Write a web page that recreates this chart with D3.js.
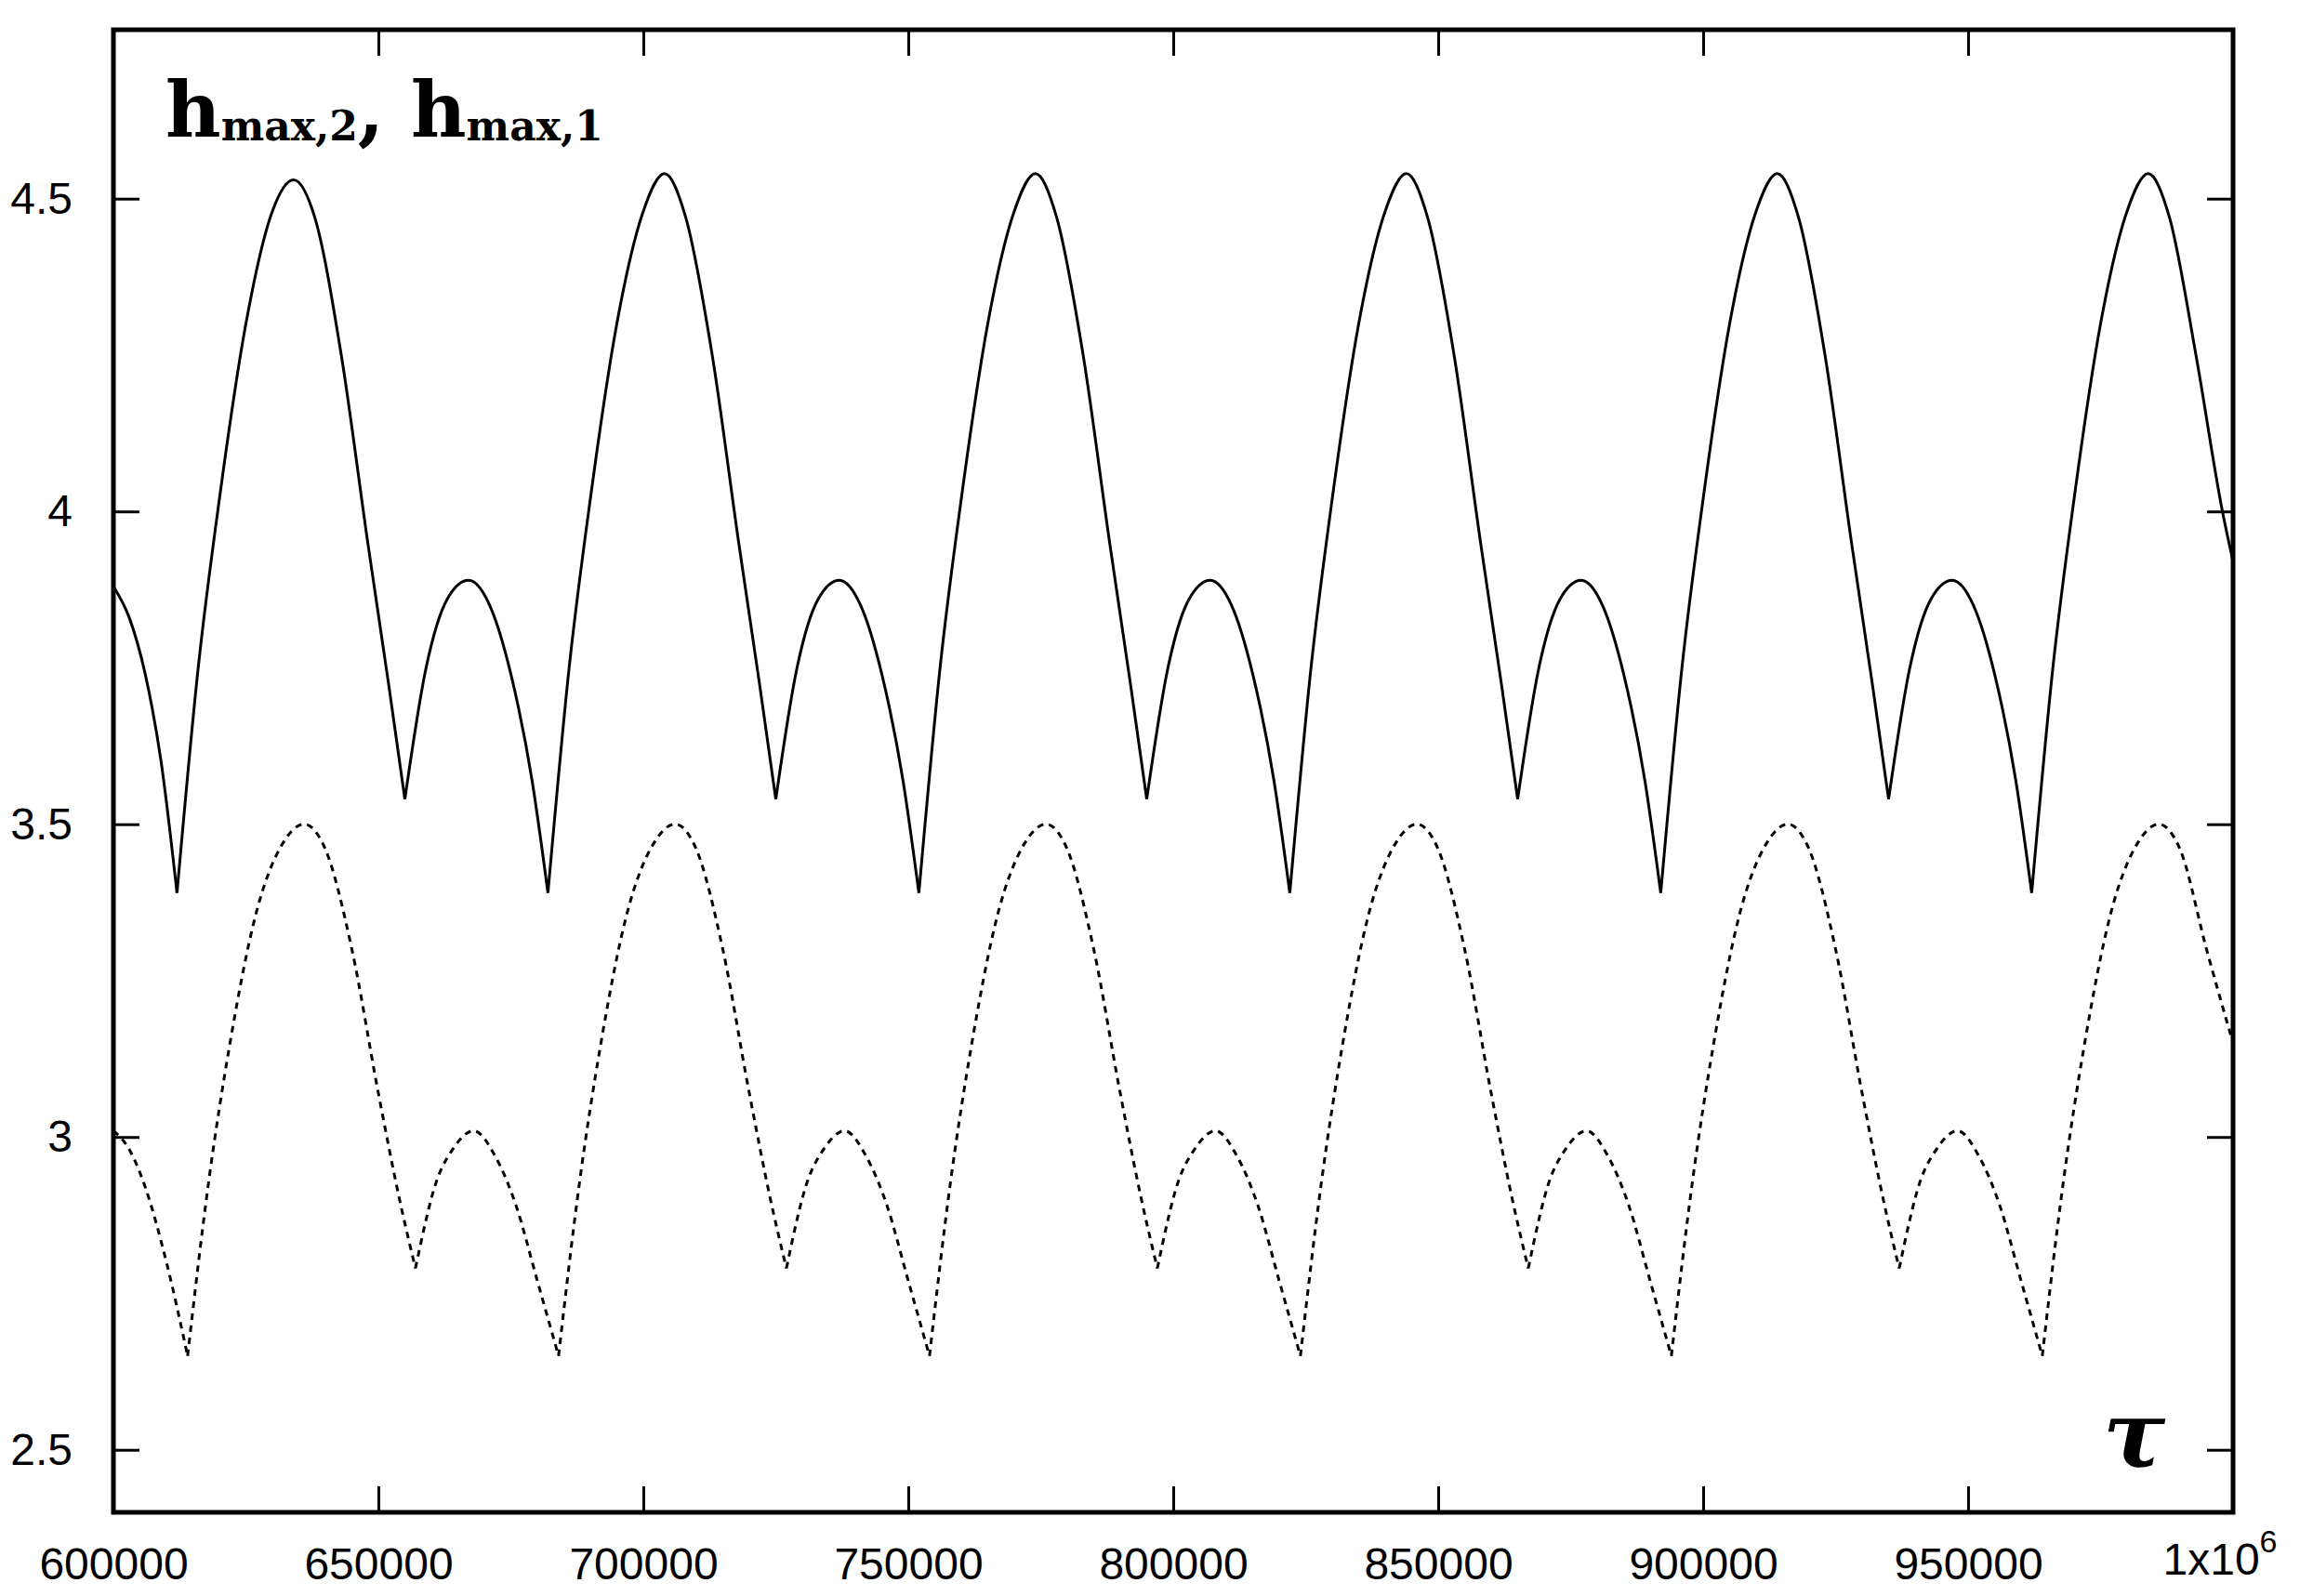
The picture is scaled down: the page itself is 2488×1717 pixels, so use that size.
<!DOCTYPE html>
<html>
<head>
<meta charset="utf-8">
<script src="https://cdn.jsdelivr.net/npm/d3@7"></script>
<style>
body { margin: 0; background: #fff; }
text { font-family: "Liberation Sans", Arial, sans-serif; }
</style>
</head>
<body>
<svg id="chart" width="2488" height="1717"></svg>
<script>
// tau in thousands, h values
var solidTau = [600,603,606,609,612, 616,620,625,630,634,638,643,648,652,655, 659,663,667,671,675,679,682,
	686,690,695,700,704,708,713,718,722,725, 729,733,737,741,745,749,752,
	756,760,765,770,774,778,783,788,792,795, 799,803,807,811,815,819,822,
	826,830,835,840,844,848,853,858,862,865, 869,873,877,881,885,889,892,
	896,900,905,910,914,918,923,928,932,935, 939,943,947,951,955,959,962,
	966,970,975,980,984,988,993,998,1000];
var solidH = [3.88,3.83,3.74,3.60,3.39, 3.75,4.02,4.30,4.48,4.53,4.47,4.25,3.95,3.72,3.54, 3.75,3.86,3.89,3.85,3.74,3.57,3.39,
	3.75,4.02,4.30,4.48,4.54,4.47,4.25,3.95,3.72,3.54, 3.75,3.86,3.89,3.85,3.74,3.57,3.39,
	3.75,4.02,4.30,4.48,4.54,4.47,4.25,3.95,3.72,3.54, 3.75,3.86,3.89,3.85,3.74,3.57,3.39,
	3.75,4.02,4.30,4.48,4.54,4.47,4.25,3.95,3.72,3.54, 3.75,3.86,3.89,3.85,3.74,3.57,3.39,
	3.75,4.02,4.30,4.48,4.54,4.47,4.25,3.95,3.72,3.54, 3.75,3.86,3.89,3.85,3.74,3.57,3.39,
	3.75,4.02,4.30,4.48,4.54,4.47,4.25,4.00,3.92];

var dottedTau = [600,603,606,610,614, 618,622,627,632,636,640,645,650,654,657, 661,664,668,672,676,680,684,
	688,692,697,702,706,710,715,720,724,727, 731,734,738,742,746,750,754,
	758,762,767,772,776,780,785,790,794,797, 801,804,808,812,816,820,824,
	828,832,837,842,846,850,855,860,864,867, 871,874,878,882,886,890,894,
	898,902,907,912,916,920,925,930,934,937, 941,944,948,952,956,960,964,
	968,972,977,982,986,990,995,1000];
var dottedH = [3.01,2.98,2.92,2.80,2.65, 2.93,3.15,3.36,3.47,3.50,3.46,3.30,3.07,2.90,2.79, 2.93,2.98,3.01,2.97,2.89,2.77,2.65,
	2.93,3.15,3.36,3.47,3.50,3.46,3.30,3.07,2.90,2.79, 2.93,2.98,3.01,2.97,2.89,2.77,2.65,
	2.93,3.15,3.36,3.47,3.50,3.46,3.30,3.07,2.90,2.79, 2.93,2.98,3.01,2.97,2.89,2.77,2.65,
	2.93,3.15,3.36,3.47,3.50,3.46,3.30,3.07,2.90,2.79, 2.93,2.98,3.01,2.97,2.89,2.77,2.65,
	2.93,3.15,3.36,3.47,3.50,3.46,3.30,3.07,2.90,2.79, 2.93,2.98,3.01,2.97,2.89,2.77,2.65,
	2.93,3.15,3.36,3.47,3.50,3.46,3.30,3.15];

var xTicks = [600000,650000,700000,750000,800000,850000,900000,950000,1000000];
var yTicks = [2.5,3,3.5,4,4.5];

var plotLeft = 122, plotRight = 2402, plotTop = 32, plotBottom = 1627;
var svg = d3.select("#chart");

var x = d3.scaleLinear().domain([600000, 1000000]).range([plotLeft, plotRight]);
var y = d3.scaleLinear().domain([2.4, 4.77]).range([plotBottom, plotTop]);

var line = d3.line()
	.x(function(d){ return x(d[0] * 1000); })
	.y(function(d){ return y(d[1]); })
	.curve(d3.curveMonotoneX);

// split a series into arches at its local minima so the cusps stay sharp
function arches(pts) {
	var out = [], cur = [pts[0]];
	for (var i = 1; i < pts.length; i++) {
		cur.push(pts[i]);
		var isMin = i < pts.length - 1 && pts[i][1] < pts[i-1][1] && pts[i][1] < pts[i+1][1];
		if (isMin) { out.push(cur); cur = [pts[i]]; }
	}
	out.push(cur);
	return out.map(function(a){ return line(a); }).join("");
}

svg.append("path").attr("d", arches(d3.zip(solidTau, solidH)))
	.attr("fill", "none").attr("stroke", "#000").attr("stroke-width", 3).attr("stroke-linejoin", "miter");

svg.append("path").attr("d", arches(d3.zip(dottedTau, dottedH)))
	.attr("fill", "none").attr("stroke", "#000").attr("stroke-width", 3)
	.attr("stroke-dasharray", "7,6");

// frame
svg.append("rect").attr("x", plotLeft).attr("y", plotTop).attr("width", plotRight - plotLeft).attr("height", plotBottom - plotTop)
	.attr("fill", "none").attr("stroke", "#000").attr("stroke-width", 5);

var tickLen = 28;
var fmtX = function(d){ return d == 1000000 ? "" : d; };

// x ticks inward (bottom and top)
svg.append("g").attr("transform", "translate(0," + plotBottom + ")")
	.call(d3.axisBottom(x).tickValues(xTicks).tickSize(-tickLen).tickPadding(tickLen + 10).tickFormat(fmtX))
	.call(function(g){ g.select(".domain").remove(); g.selectAll("line").attr("stroke-width", 3); g.selectAll("text").attr("font-size", 48).attr("fill", "#000"); });
svg.append("g").attr("transform", "translate(0," + plotTop + ")")
	.call(d3.axisTop(x).tickValues(xTicks).tickSize(-tickLen).tickFormat(""))
	.call(function(g){ g.select(".domain").remove(); g.selectAll("line").attr("stroke-width", 3); });

// 1x10^6 label
var lab = svg.append("text").attr("x", plotRight - 14).attr("y", 1694).attr("text-anchor", "middle").attr("font-size", 48);
lab.append("tspan").text("1x10");
lab.append("tspan").attr("dy", -24).attr("font-size", 34).text("6");

// y ticks inward (left and right)
svg.append("g").attr("transform", "translate(" + plotLeft + ",0)")
	.call(d3.axisLeft(y).tickValues(yTicks).tickSize(-tickLen).tickPadding(tickLen + 16).tickFormat(d3.format("")))
	.call(function(g){ g.select(".domain").remove(); g.selectAll("line").attr("stroke-width", 3); g.selectAll("text").attr("font-size", 48).attr("fill", "#000"); });
svg.append("g").attr("transform", "translate(" + plotRight + ",0)")
	.call(d3.axisRight(y).tickValues(yTicks).tickSize(-tickLen).tickFormat(""))
	.call(function(g){ g.select(".domain").remove(); g.selectAll("line").attr("stroke-width", 3); });

// title label
var t = svg.append("text").attr("x", 178).attr("y", 147)
	.style("font-family", "'DejaVu Serif', 'Liberation Serif', serif").attr("font-weight", "bold").attr("font-size", 82);
t.append("tspan").text("h");
t.append("tspan").attr("font-size", 44).attr("dy", 4).text("max,2");
t.append("tspan").attr("dy", -4).attr("font-size", 82).text(", h");
t.append("tspan").attr("font-size", 44).attr("dy", 4).text("max,1");

// tau
svg.append("text").attr("x", 2262).attr("y", 1578)
	.style("font-family", "'DejaVu Serif', 'Liberation Serif', serif")
	.attr("font-style", "italic").attr("font-weight", "bold").attr("font-size", 100).text("τ");
</script>
</body>
</html>
